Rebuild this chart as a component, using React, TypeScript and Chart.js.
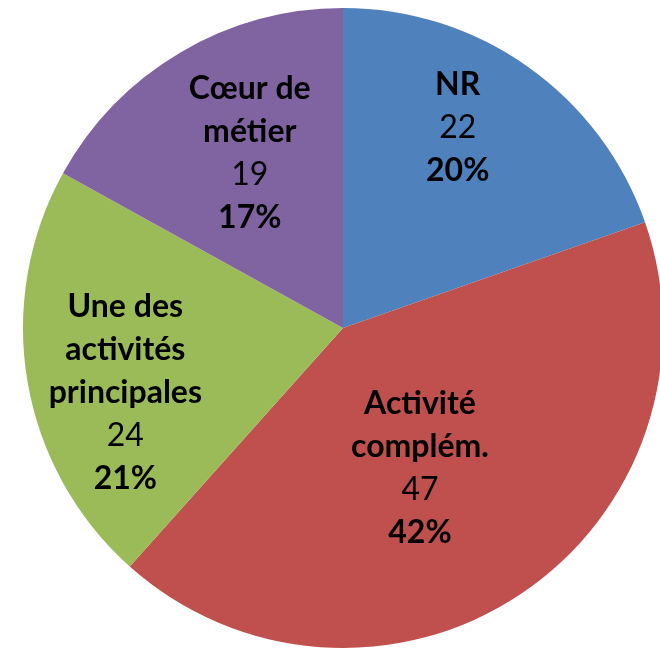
import React, { useEffect, useRef } from "react";
import { Chart, registerables } from "chart.js";

Chart.register(...registerables);

const categories: string[][] = [
  ["NR"],
  ["Activité", "complém."],
  ["Une des", "activités", "principales"],
  ["Cœur de", "métier"],
];
const values: number[] = [22, 47, 24, 19];
const percentLabels: string[] = ["20%", "42%", "21%", "17%"];
const colors: string[] = ["#4F81BD", "#C0504D", "#9BBB59", "#8064A2"];

// label placement: fraction of radius, and angle adjustment (degrees)
const labelRadiusFrac: number[] = [0.72, 0.5, 0.71, 0.62];
const labelAngleAdj: number[] = [-5.5, 5, -7, 2.5];

const labelPlugin = {
  id: "sliceLabels",
  afterDatasetsDraw(chart: any) {
    const ctx = chart.ctx;
    const meta = chart.getDatasetMeta(0);
    const lineH = 43;
    ctx.save();
    ctx.textAlign = "center";
    ctx.textBaseline = "middle";
    ctx.fillStyle = "#000000";
    meta.data.forEach((arc: any, i: number) => {
      const p = arc.getProps(["x", "y", "startAngle", "endAngle", "outerRadius"], true);
      const mid = (p.startAngle + p.endAngle) / 2 + (labelAngleAdj[i] * Math.PI) / 180;
      const r = p.outerRadius * labelRadiusFrac[i];
      const cx = p.x + Math.cos(mid) * r;
      const cy = p.y + Math.sin(mid) * r;
      const lines: { t: string; bold: boolean }[] = [];
      categories[i].forEach((t) => lines.push({ t, bold: true }));
      lines.push({ t: String(values[i]), bold: false });
      lines.push({ t: percentLabels[i], bold: true });
      const total = lines.length;
      lines.forEach((ln, k) => {
        ctx.font = `${ln.bold ? "bold " : ""}32px Lato`;
        const y = cy + (k - (total - 1) / 2) * lineH;
        ctx.fillText(ln.t, cx, y);
      });
    });
    ctx.restore();
  },
};

export default function App() {
  const ref = useRef<HTMLCanvasElement | null>(null);
  useEffect(() => {
    if (!ref.current) return;
    const chart = new Chart(ref.current, {
      type: "pie",
      data: {
        labels: categories.map((c) => c.join(" ")),
        datasets: [
          {
            data: values,
            backgroundColor: colors,
            borderWidth: 0,
          },
        ],
      },
      options: {
        responsive: false,
        animation: false,
        devicePixelRatio: 1,
        layout: { padding: { left: 23, top: 8, right: 17, bottom: 12 } },
        plugins: {
          legend: { display: false },
          tooltip: { enabled: false },
        },
      },
      plugins: [labelPlugin],
    });
    return () => chart.destroy();
  }, []);
  return (
    <div
      style={{
        position: "fixed",
        left: 0,
        top: 0,
        width: 660,
        height: 649,
        overflow: "hidden",
        background: "#ffffff",
      }}
    >
      <canvas ref={ref} width={680} height={660} style={{ display: "block" }} />
    </div>
  );
}
